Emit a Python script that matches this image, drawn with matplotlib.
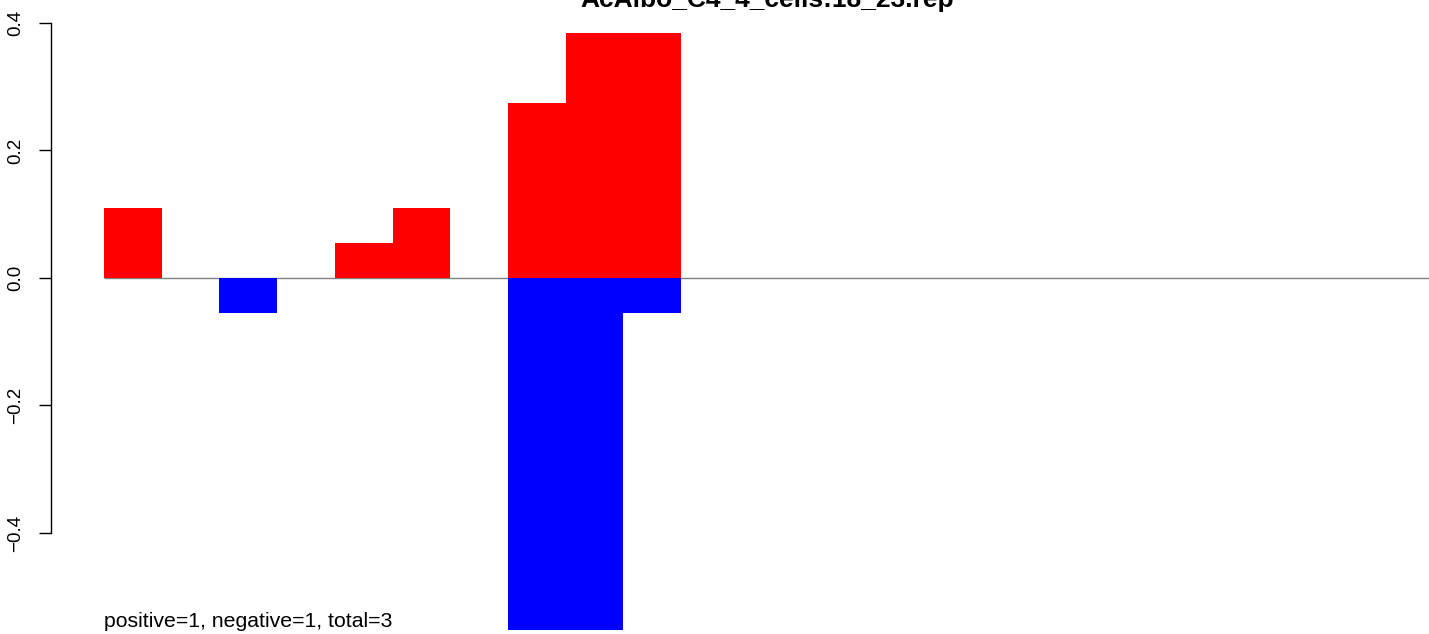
#!/usr/bin/env python3

import matplotlib
matplotlib.use("Agg")
import matplotlib.pyplot as plt

title = "AcAlbo_C4_4_cells:18_23.rep"
note = "positive=1, negative=1, total=3"

# one value per bin, 23 bins along the read
pos_vals = [0.110, 0, 0, 0, 0.055, 0.110, 0, 0.274, 0.384, 0.384,
            0, 0, 0, 0, 0, 0, 0, 0, 0, 0, 0, 0, 0]
neg_vals = [0, 0, -0.055, 0, 0, 0, 0, -0.552, -0.552, -0.055,
            0, 0, 0, 0, 0, 0, 0, 0, 0, 0, 0, 0, 0]
y_ticks = [-0.4, -0.2, 0.0, 0.2, 0.4]


def main():
    plt.rcParams["font.family"] = ["Liberation Sans", "DejaVu Sans"]
    fig = plt.figure(figsize=(14.29, 6.34), dpi=100)
    ax = fig.add_axes([50.5 / 1429, 0, 1 - 50.5 / 1429, 1])

    x = list(range(len(pos_vals)))
    ax.hlines(0, 0, len(pos_vals), color="#808080", lw=1, zorder=1)
    ax.bar(x, pos_vals, width=1, align="edge", color="#ff0000", lw=0, zorder=2)
    ax.bar(x, neg_vals, width=1, align="edge", color="#0000ff", lw=0, zorder=2)

    ax.set_xlim(-0.927, 22.96)
    ax.set_ylim(-356 / 637.5, 278 / 637.5)

    for s in ["top", "right", "bottom"]:
        ax.spines[s].set_visible(False)
    ax.spines["left"].set_bounds(-0.4, 0.4)
    ax.spines["left"].set_linewidth(1)
    ax.set_xticks([])
    ax.set_yticks(y_ticks)
    ax.set_yticklabels(["\u22120.4", "\u22120.2", "0.0", "0.2", "0.4"],
                       rotation=90, va="center", fontsize=13.5)
    ax.tick_params(axis="y", length=9, width=1, pad=10)

    # title runs off the top edge, as in the original
    fig.text(767 / 1429, 1 - 7 / 634, title, ha="center", va="baseline",
             fontsize=19, fontweight="bold")
    fig.text(104 / 1429, 1 - 627 / 634, note, ha="left", va="baseline",
             fontsize=15.3)

    fig.savefig("out.png", dpi=100)


if __name__ == "__main__":
    main()
